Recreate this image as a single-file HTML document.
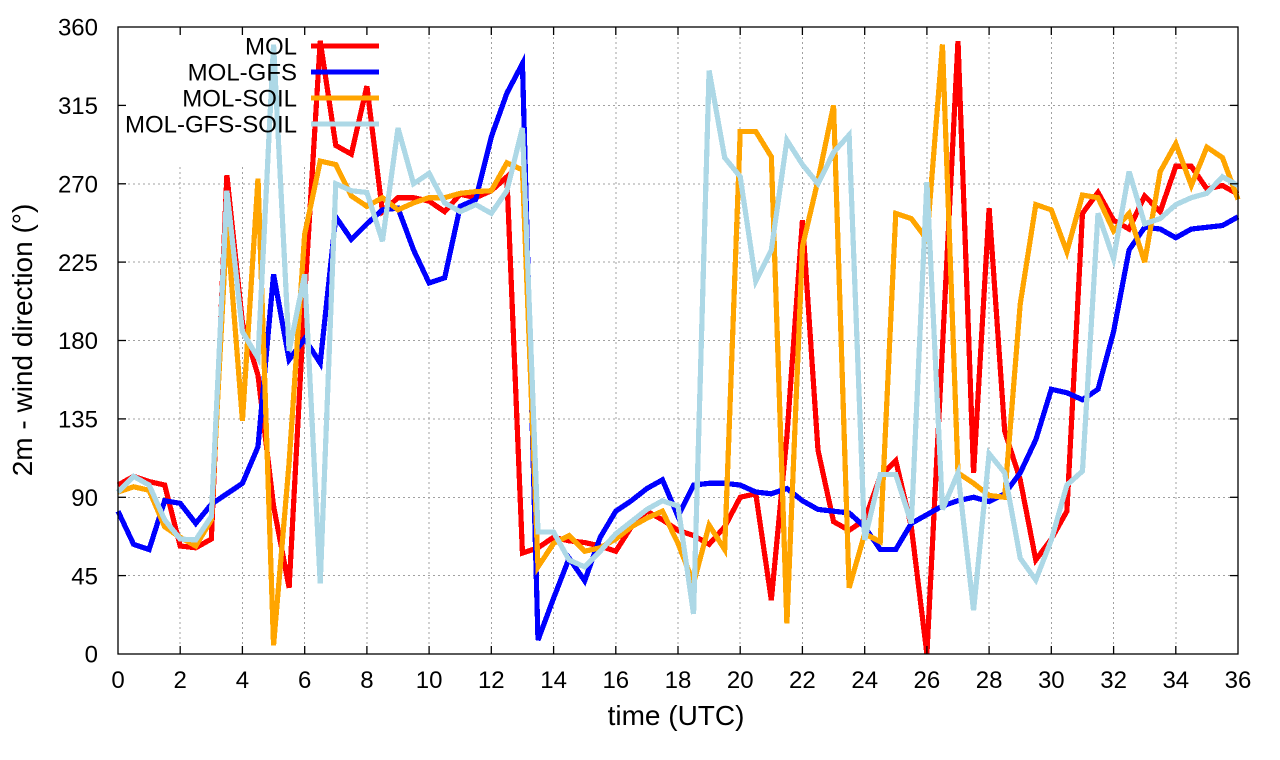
<!DOCTYPE html>
<html>
<head>
<meta charset="utf-8">
<style>
  html, body { margin: 0; padding: 0; background: #ffffff; }
  svg { display: block; }
  text { font-family: "Liberation Sans", Arial, sans-serif; fill: #000; }
</style>
</head>
<body>
<svg width="1280" height="760" viewBox="0 0 1280 760" xmlns="http://www.w3.org/2000/svg">
  <rect x="0" y="0" width="1280" height="760" fill="#ffffff"/>

  <!-- grid -->
  <g stroke="#a0a0a0" stroke-width="1" stroke-dasharray="2,3" fill="none" shape-rendering="crispEdges">
    <line x1="118" y1="575.6" x2="1238" y2="575.6"/>
    <line x1="118" y1="497.3" x2="1238" y2="497.3"/>
    <line x1="118" y1="418.9" x2="1238" y2="418.9"/>
    <line x1="118" y1="340.5" x2="1238" y2="340.5"/>
    <line x1="118" y1="262.1" x2="1238" y2="262.1"/>
    <line x1="118" y1="183.8" x2="1238" y2="183.8"/>
    <line x1="118" y1="105.4" x2="1238" y2="105.4"/>
    <line x1="180.2" y1="27" x2="180.2" y2="654"/>
    <line x1="242.4" y1="27" x2="242.4" y2="654"/>
    <line x1="304.7" y1="27" x2="304.7" y2="654"/>
    <line x1="366.9" y1="27" x2="366.9" y2="654"/>
    <line x1="429.1" y1="27" x2="429.1" y2="654"/>
    <line x1="491.3" y1="27" x2="491.3" y2="654"/>
    <line x1="553.6" y1="27" x2="553.6" y2="654"/>
    <line x1="615.8" y1="27" x2="615.8" y2="654"/>
    <line x1="678" y1="27" x2="678" y2="654"/>
    <line x1="740.2" y1="27" x2="740.2" y2="654"/>
    <line x1="802.4" y1="27" x2="802.4" y2="654"/>
    <line x1="864.7" y1="27" x2="864.7" y2="654"/>
    <line x1="926.9" y1="27" x2="926.9" y2="654"/>
    <line x1="989.1" y1="27" x2="989.1" y2="654"/>
    <line x1="1051.3" y1="27" x2="1051.3" y2="654"/>
    <line x1="1113.6" y1="27" x2="1113.6" y2="654"/>
    <line x1="1175.8" y1="27" x2="1175.8" y2="654"/>
  </g>
  <!-- key area clears grid -->
  <rect x="128" y="28" width="265" height="80" fill="#ffffff"/>
  <rect x="128" y="100" width="202" height="65" fill="#ffffff"/>

  <!-- data series -->
  <g transform="matrix(15.5556 0 0 -1.74167 118 654)" fill="none" stroke-width="5.2" stroke-linejoin="miter" stroke-linecap="butt" shape-rendering="crispEdges">
    <polyline vector-effect="non-scaling-stroke" stroke="#ff0000" points="0,97 1,102 2,99 3,97 4,62 5,61 6,66 7,275 8,190 9,160 10,85 11,38 12,205 13,352 14,292 15,287 16,326 17,254 18,262 19,262 20,260 21,254 22,264 23,262 24,266 25,274 26,58 27,61 28,67 29,65 30,64 31,62 32,59 33,73 34,82 35,77 36,71 37,68 38,63 39,73 40,90 41,92 42,31 43,125 44,249 45,117 46,76 47,71 48,77 49,102 50,111 51,73 52,0 53,176 54,352 55,104 56,256 57,128 58,100 59,54 60,66 61,82 62,253 63,265 64,249 65,244 66,263 67,254 68,280 69,280 70,267 71,269 72,264"/>
    <polyline vector-effect="non-scaling-stroke" stroke="#0000ff" points="0,82 1,63 2,60 3,88 4,86.5 5,75 6,86 7,92 8,98 9,119 10,218 11,169 12,181 13,167 14,251 15,238 16,247 17,255 18,256 19,232 20,213 21,216 22,257 23,261 24,297 25,322 26,339 27,8 28,32 29,55 30,42 31,67 32,82 33,88 34,95 35,100 36,79 37,97 38,98 39,98 40,97 41,93 42,92 43,95 44,88 45,83 46,82 47,81 48,73 49,60 50,60 51,75 52,80 53,85 54,88 55,90 56,87.5 57,92 58,104 59,123 60,152 61,150 62,146 63,152 64,185 65,232 66,245 67,244 68,239 69,244 70,245 71,246 72,251"/>
    <polyline vector-effect="non-scaling-stroke" stroke="#ffa500" points="0,93 1,96 2,94 3,73 4,67 5,62 6,77 7,247 8,134 9,273 10,5 11,110 12,241 13,283 14,281 15,263 16,257 17,262 18,255 19,259 20,262 21,262 22,264.5 23,265.5 24,266 25,282 26,278 27,50 28,63.5 29,68 30,59 31,61 32,66 33,73 34,78 35,82 36,63.5 37,40.6 38,74 39,60 40,300 41,300 42,285.5 43,17.6 44,234 45,272 46,315 47,38 48,69 49,64.5 50,253 51,250 52,238 53,350 54,104 55,98 56,91 57,90 58,201 59,258 60,255 61,231 62,263.5 63,262 64,243 65,253 66,225 67,277 68,293 69,269 70,291 71,285 72,261"/>
    <polyline vector-effect="non-scaling-stroke" stroke="#add8e6" points="0,93 1,102 2,97 3,77 4,66 5,65.5 6,79 7,266 8,185 9,170 10,350 11,174 12,218 13,40.6 14,270 15,266 16,265 17,237 18,302 19,270 20,276 21,259 22,254 23,258 24,253 25,266 26,302 27,70 28,70 29,54 30,50 31,59 32,69 33,76 34,83 35,88 36,85 37,23 38,335 39,285 40,274 41,214 42,232 43,295 44,281 45,270 46,288 47,298 48,65.5 49,103 50,103 51,75 52,271 53,83 54,104 55,25 56,115 57,104 58,55 59,42.5 60,65.5 61,97 62,105 63,253 64,227 65,277 66,247 67,250 68,258 69,262 70,264.5 71,274 72,269"/>
  </g>

  <!-- legend -->
  <g font-size="24" text-anchor="end">
    <text x="297" y="54.5">MOL</text>
    <text x="297" y="80.5">MOL-GFS</text>
    <text x="297" y="106.5">MOL-SOIL</text>
    <text x="297" y="132.5">MOL-GFS-SOIL</text>
  </g>
  <g stroke-width="5" fill="none" shape-rendering="crispEdges">
    <line x1="311" y1="46" x2="379" y2="46" stroke="#ff0000"/>
    <line x1="311" y1="72" x2="379" y2="72" stroke="#0000ff"/>
    <line x1="311" y1="98" x2="379" y2="98" stroke="#ffa500"/>
    <line x1="311" y1="124" x2="379" y2="124" stroke="#add8e6"/>
  </g>

  <!-- border -->
  <rect x="118" y="27" width="1120" height="627" fill="none" stroke="#000" stroke-width="1.3"/>

  <!-- ticks -->
  <g stroke="#000" stroke-width="1.3">
    <line x1="118" y1="575.6" x2="126" y2="575.6"/><line x1="1238" y1="575.6" x2="1230" y2="575.6"/>
    <line x1="118" y1="497.3" x2="126" y2="497.3"/><line x1="1238" y1="497.3" x2="1230" y2="497.3"/>
    <line x1="118" y1="418.9" x2="126" y2="418.9"/><line x1="1238" y1="418.9" x2="1230" y2="418.9"/>
    <line x1="118" y1="340.5" x2="126" y2="340.5"/><line x1="1238" y1="340.5" x2="1230" y2="340.5"/>
    <line x1="118" y1="262.1" x2="126" y2="262.1"/><line x1="1238" y1="262.1" x2="1230" y2="262.1"/>
    <line x1="118" y1="183.8" x2="126" y2="183.8"/><line x1="1238" y1="183.8" x2="1230" y2="183.8"/>
    <line x1="118" y1="105.4" x2="126" y2="105.4"/><line x1="1238" y1="105.4" x2="1230" y2="105.4"/>
    <line x1="180.2" y1="654" x2="180.2" y2="646"/><line x1="180.2" y1="27" x2="180.2" y2="35"/>
    <line x1="242.4" y1="654" x2="242.4" y2="646"/><line x1="242.4" y1="27" x2="242.4" y2="35"/>
    <line x1="304.7" y1="654" x2="304.7" y2="646"/><line x1="304.7" y1="27" x2="304.7" y2="35"/>
    <line x1="366.9" y1="654" x2="366.9" y2="646"/><line x1="366.9" y1="27" x2="366.9" y2="35"/>
    <line x1="429.1" y1="654" x2="429.1" y2="646"/><line x1="429.1" y1="27" x2="429.1" y2="35"/>
    <line x1="491.3" y1="654" x2="491.3" y2="646"/><line x1="491.3" y1="27" x2="491.3" y2="35"/>
    <line x1="553.6" y1="654" x2="553.6" y2="646"/><line x1="553.6" y1="27" x2="553.6" y2="35"/>
    <line x1="615.8" y1="654" x2="615.8" y2="646"/><line x1="615.8" y1="27" x2="615.8" y2="35"/>
    <line x1="678" y1="654" x2="678" y2="646"/><line x1="678" y1="27" x2="678" y2="35"/>
    <line x1="740.2" y1="654" x2="740.2" y2="646"/><line x1="740.2" y1="27" x2="740.2" y2="35"/>
    <line x1="802.4" y1="654" x2="802.4" y2="646"/><line x1="802.4" y1="27" x2="802.4" y2="35"/>
    <line x1="864.7" y1="654" x2="864.7" y2="646"/><line x1="864.7" y1="27" x2="864.7" y2="35"/>
    <line x1="926.9" y1="654" x2="926.9" y2="646"/><line x1="926.9" y1="27" x2="926.9" y2="35"/>
    <line x1="989.1" y1="654" x2="989.1" y2="646"/><line x1="989.1" y1="27" x2="989.1" y2="35"/>
    <line x1="1051.3" y1="654" x2="1051.3" y2="646"/><line x1="1051.3" y1="27" x2="1051.3" y2="35"/>
    <line x1="1113.6" y1="654" x2="1113.6" y2="646"/><line x1="1113.6" y1="27" x2="1113.6" y2="35"/>
    <line x1="1175.8" y1="654" x2="1175.8" y2="646"/><line x1="1175.8" y1="27" x2="1175.8" y2="35"/>
  </g>

  <!-- y tick labels -->
  <g font-size="24" text-anchor="end">
    <text x="98" y="662.7">0</text>
    <text x="98" y="584.3">45</text>
    <text x="98" y="506">90</text>
    <text x="98" y="427.6">135</text>
    <text x="98" y="349.2">180</text>
    <text x="98" y="270.8">225</text>
    <text x="98" y="192.5">270</text>
    <text x="98" y="114.1">315</text>
    <text x="98" y="35.7">360</text>
  </g>

  <!-- x tick labels -->
  <g font-size="24" text-anchor="middle">
    <text x="118" y="688">0</text>
    <text x="180.2" y="688">2</text>
    <text x="242.4" y="688">4</text>
    <text x="304.7" y="688">6</text>
    <text x="366.9" y="688">8</text>
    <text x="429.1" y="688">10</text>
    <text x="491.3" y="688">12</text>
    <text x="553.6" y="688">14</text>
    <text x="615.8" y="688">16</text>
    <text x="678" y="688">18</text>
    <text x="740.2" y="688">20</text>
    <text x="802.4" y="688">22</text>
    <text x="864.7" y="688">24</text>
    <text x="926.9" y="688">26</text>
    <text x="989.1" y="688">28</text>
    <text x="1051.3" y="688">30</text>
    <text x="1113.6" y="688">32</text>
    <text x="1175.8" y="688">34</text>
    <text x="1238" y="688">36</text>
  </g>

  <!-- axis labels -->
  <text x="676" y="725" font-size="28" text-anchor="middle">time (UTC)</text>
  <text transform="translate(32,340) rotate(-90)" font-size="28" text-anchor="middle">2m - wind direction (°)</text>
</svg>
</body>
</html>
